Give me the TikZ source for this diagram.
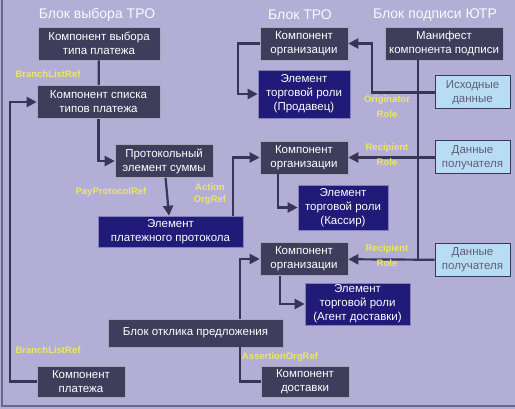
\documentclass[tikz,border=0pt]{standalone}
\usepackage{fontspec}
\setmainfont{Liberation Sans}
\usetikzlibrary{arrows.meta}

\definecolor{fon}{RGB}{178,174,214}
\definecolor{temn}{RGB}{62,62,92}
\definecolor{sin}{RGB}{32,26,120}
\definecolor{goluboj}{RGB}{184,220,242}
\definecolor{liniya}{RGB}{56,54,86}
\definecolor{zhelt}{RGB}{236,230,100}

\begin{document}
\begin{tikzpicture}[x=1pt,y=-1pt]

      \useasboundingbox (0,0) rectangle (515,409);
      \fill[fon] (0,0) rectangle (515,409);
      \draw[liniya!60!fon, line width=1.5] (2,0) -- (2,406) -- (515,406);

      % titles of the blocks
      \begin{scope}[every node/.style={text=white!94!fon,font=\fontsize{14}{16}\selectfont}]
        \node (tvybor)  at (97,15)  {Блок выбора ТРО};
        \node (ttro)    at (300,15) {Блок ТРО};
        \node (tpodpis) at (435,15) {Блок подписи ЮТР};
      \end{scope}

      \begin{scope}[every node/.style={draw=white!55!temn,line width=0.6,fill=temn,text=white,
          align=center,inner sep=0,minimum height=33,font=\fontsize{11.5}{14}\selectfont}]
        \node[minimum width=122] (vybor)  at (99,43.5)  {Компонент выбора\\типа платежа};
        \node[minimum width=123] (spisok) at (98.5,102) {Компонент списка\\типов платежа};
        \node[minimum width=98]  (summa)  at (164,161)  {Протокольный\\элемент суммы};
        \node[minimum width=88]  (org1)   at (304,43.5) {Компонент\\организации};
        \node[minimum width=88]  (org2)   at (304,157.5) {Компонент\\организации};
        \node[minimum width=88]  (org3)   at (304,259)  {Компонент\\организации};
        \node[minimum width=118] (manif)  at (444,43.5) {Манифест\\компонента подписи};
        \node[minimum width=175,minimum height=28] (otklik) at (195.5,333) {Блок отклика предложения};
        \node[minimum width=88,minimum height=31] (plat) at (81,381.5)  {Компонент\\платежа};
        \node[minimum width=88,minimum height=31] (dost) at (305,381.5) {Компонент\\доставки};
      \end{scope}

      \begin{scope}[every node/.style={draw=white!45!sin,line width=0.6,fill=sin,text=white,
          align=center,inner sep=0,font=\fontsize{11.5}{14}\selectfont}]
        \node[minimum width=145,minimum height=31] (protokol) at (170.5,231.5) {Элемент\\платежного протокола};
        \node[minimum width=92,minimum height=48]  (rol1) at (304,94)    {Элемент\\торговой роли\\(Продавец)};
        \node[minimum width=90,minimum height=45]  (rol2) at (343,207.5) {Элемент\\торговой роли\\(Кассир)};
        \node[minimum width=105,minimum height=42] (rol3) at (357.5,304) {Элемент\\торговой роли\\(Агент доставки)};
      \end{scope}

      \begin{scope}[every node/.style={draw=liniya,line width=1,fill=goluboj,text=liniya!80,
          align=center,inner sep=0,minimum width=75,minimum height=33,font=\fontsize{11.5}{14}\selectfont}]
        \node (ishod) at (472.5,92.5) {Исходные\\данные};
        \node (poluch1) at (472.5,157.5) {Данные\\получателя};
        \node (poluch2) at (472.5,260) {Данные\\получателя};
      \end{scope}

      \coordinate (lev) at (10,0);
      \coordinate (shina) at (418,0);
      \coordinate (iskol) at (372,0);
      \coordinate (prod) at (238,0);
      \coordinate (otk) at (240,0);

      \begin{scope}[liniya,line width=2.2,-{Triangle[length=10pt,width=10pt]}]
        \draw[-] (vybor) -- (spisok);
        \draw (spisok.south) |- (summa.west);
        \draw (summa) -- (protokol);
        \draw ([xshift=-10]protokol.north east) |- (org2.west);
        \draw (plat.west) -- (plat.west -| lev) -- (spisok.west -| lev) -- (spisok.west);
        \draw (org1.west) -- (org1.west -| prod) -- (rol1.west -| prod) -- (rol1.west);
        \draw (ishod.west) -- (ishod.west -| iskol) -- (org1.east -| iskol) -- (org1.east);
        \draw[-] (manif.south -| shina) -- (poluch2.west -| shina);
        \draw (poluch1) -- (org2);
        \draw (poluch2) -- (org3);
        \draw ([xshift=18]org2.south west) |- (rol2.west);
        \draw ([xshift=20]org3.south west) |- (rol3.west);
        \draw (otklik.north -| otk) |- (org3.west);
        \draw[-] (otklik.south -| otk) |- (dost.west);
      \end{scope}

      % reference labels
      \begin{scope}[every node/.style={text=zhelt,align=center,inner sep=0,
          font=\bfseries\fontsize{9.5}{15}\selectfont}]
        \node (ref1) at (48,74)    {BranchListRef};
        \node (ref2) at (111,192)  {PayProtocolRef};
        \node[font=\bfseries\fontsize{9.5}{12}\selectfont] (ref3) at (210,194) {Action\\OrgRef};
        \node (ref4) at (387,107)  {Originator\\Role};
        \node (ref5) at (387,155)  {Recipient\\Role};
        \node (ref6) at (387,256)  {Recipient\\Role};
        \node (ref7) at (48,350)   {BranchListRef};
        \node (ref8) at (280,357)  {AssertionOrgRef};
      \end{scope}

    \end{tikzpicture}
\end{document}
